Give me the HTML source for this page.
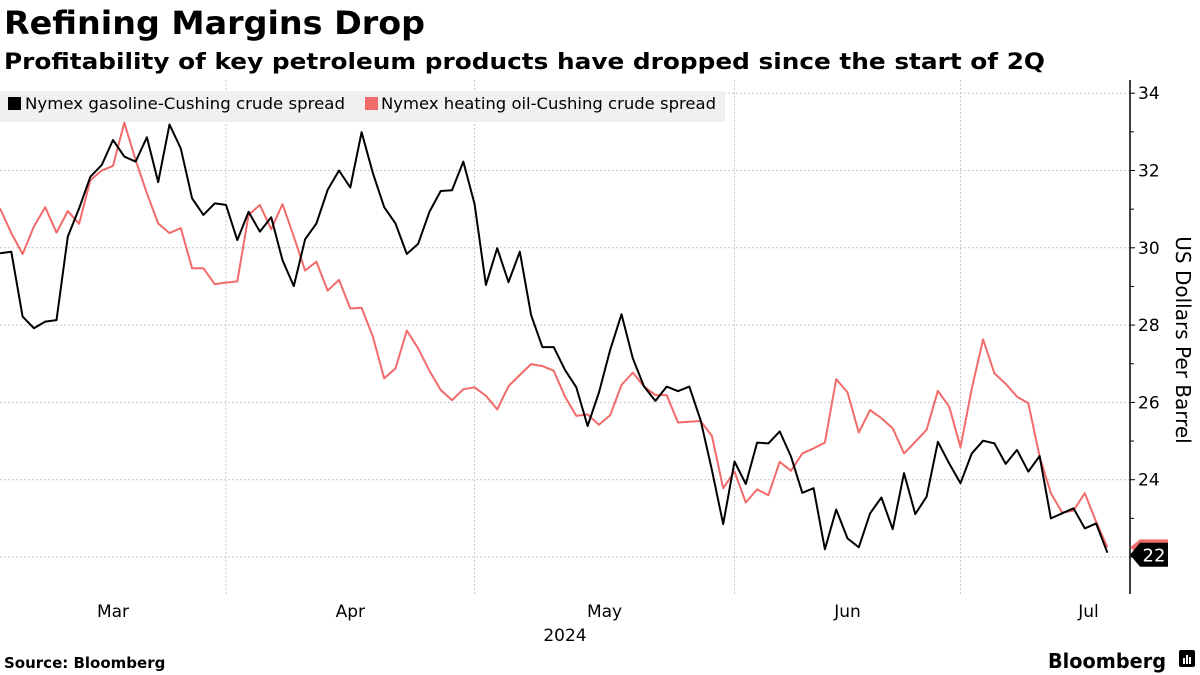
<!DOCTYPE html>
<html><head><meta charset="utf-8"><style>
html,body{margin:0;padding:0;background:#fff;width:1200px;height:675px;overflow:hidden;font-family:"Liberation Sans","DejaVu Sans",sans-serif}
svg text{font-family:"DejaVu Sans","Liberation Sans",sans-serif}
</style></head><body>
<svg id="chart" width="1200" height="675" viewBox="0 0 1200 675">
<text x="4" y="34" font-size="32" font-weight="bold" fill="#000" textLength="421" lengthAdjust="spacingAndGlyphs">Refining Margins Drop</text>
<text x="4" y="69" font-size="22" font-weight="bold" fill="#000" textLength="1041" lengthAdjust="spacingAndGlyphs">Profitability of key petroleum products have dropped since the start of 2Q</text>
<g id="grid"></g>
<rect x="0" y="91" width="725" height="31" fill="#f0f0f0"/>
<g>
<rect x="8" y="97" width="13" height="13" fill="#000"/>
<text x="25" y="109" font-size="16" fill="#000" textLength="320" lengthAdjust="spacingAndGlyphs">Nymex gasoline-Cushing crude spread</text></g>
<g>
<rect x="365" y="97" width="13" height="13" fill="#f26b6b"/>
<text x="381" y="109" font-size="16" fill="#000" textLength="335" lengthAdjust="spacingAndGlyphs">Nymex heating oil-Cushing crude spread</text></g>
<g id="series"></g>
<g id="axes"></g>
<text transform="translate(1176,340) rotate(90)" text-anchor="middle" font-size="20" fill="#000">US Dollars Per Barrel</text>
<text x="4" y="668" font-size="15" font-weight="bold" fill="#000">Source: Bloomberg</text>
<text x="1048" y="668" font-size="20" font-weight="bold" fill="#000" textLength="118" lengthAdjust="spacingAndGlyphs">Bloomberg</text>
<g><rect x="1179" y="650" width="16" height="17" rx="2" fill="#000"/><rect x="1183" y="658" width="2" height="6" fill="#fff"/><rect x="1186" y="655" width="2" height="9" fill="#fff"/><rect x="1189" y="657" width="2" height="7" fill="#fff"/></g>
</svg>
<script>
const gasoline=[29.86,29.90,28.22,27.92,28.09,28.13,30.29,31.02,31.84,32.14,32.79,32.36,32.23,32.86,31.70,33.19,32.57,31.28,30.85,31.15,31.11,30.20,30.93,30.42,30.79,29.68,29.01,30.22,30.63,31.50,32.00,31.56,32.99,31.93,31.05,30.63,29.84,30.10,30.93,31.47,31.49,32.23,31.13,29.04,29.99,29.11,29.90,28.26,27.43,27.43,26.84,26.39,25.39,26.25,27.36,28.28,27.14,26.41,26.04,26.41,26.29,26.41,25.54,24.25,22.85,24.47,23.89,24.96,24.94,25.25,24.60,23.66,23.78,22.20,23.23,22.48,22.25,23.13,23.54,22.72,24.17,23.11,23.56,24.98,24.42,23.91,24.68,25.01,24.94,24.41,24.77,24.21,24.61,23.00,23.13,23.26,22.74,22.87,22.11];
const heatingOil=[31.02,30.38,29.84,30.55,31.05,30.39,30.95,30.62,31.75,32.00,32.12,33.24,32.27,31.41,30.63,30.38,30.51,29.47,29.47,29.06,29.10,29.13,30.85,31.11,30.48,31.13,30.29,29.41,29.64,28.89,29.17,28.43,28.45,27.70,26.62,26.88,27.86,27.40,26.82,26.32,26.06,26.34,26.39,26.17,25.82,26.42,26.71,26.99,26.94,26.82,26.15,25.65,25.69,25.42,25.67,26.45,26.77,26.41,26.19,26.19,25.48,25.50,25.52,25.13,23.78,24.21,23.41,23.75,23.60,24.46,24.23,24.68,24.81,24.96,26.60,26.26,25.22,25.80,25.59,25.33,24.68,24.98,25.29,26.30,25.89,24.84,26.36,27.63,26.75,26.48,26.15,25.98,24.60,23.65,23.15,23.20,23.65,22.91,22.25];
const yTicks=[22,24,26,28,30,32,34];
const monthLabels=["Mar","Apr","May","Jun","Jul"];
const monthStartIdx=[0,20,42,65,85];
const lastValueLabel="22";

const NS="http://www.w3.org/2000/svg";
const X0=0,STEP=11.3,AXIS_X=1130,TOP=80,BOTTOM=594;
function xScale(i){return X0+i*STEP;}
function yScale(v){return 557-(v-22)*38.65;}
function mk(tag,attrs,parent){const e=document.createElementNS(NS,tag);for(const k in attrs)e.setAttribute(k,attrs[k]);parent.appendChild(e);return e;}
const grid=document.getElementById('grid'),axes=document.getElementById('axes'),series=document.getElementById('series');
const maxTick=Math.max(...yTicks);
yTicks.forEach(v=>{
  const y=yScale(v);
  const l=mk('line',{x1:0,x2:AXIS_X,y1:y,y2:y,stroke:'#c8c8c8','stroke-width':1,'stroke-dasharray':'2,2'},grid);
  
  
  const t=mk('line',{x1:AXIS_X,x2:AXIS_X+5,y1:y,y2:y,stroke:'#000','stroke-width':1},axes);
  
  
  if(v<maxTick){
    const m=mk('line',{x1:AXIS_X,x2:AXIS_X+4,y1:yScale(v+1),y2:yScale(v+1),stroke:'#000','stroke-width':1},axes);
    
    
  }
  if(v!==22){
    const tx=mk('text',{x:AXIS_X+8,y:y+6,'font-size':17,fill:'#000'},axes);
    tx.textContent=v;
    
    
  }
});
monthStartIdx.forEach((idx,k)=>{
  const x=xScale(idx);
  if(k>0){
    const g=mk('line',{x1:x,x2:x,y1:TOP,y2:BOTTOM,stroke:'#c8c8c8','stroke-width':1,'stroke-dasharray':'2,2'},grid);
    
    
  }
  const next=k+1<monthStartIdx.length?xScale(monthStartIdx[k+1]):xScale(monthStartIdx[k])+256;
  const t=mk('text',{x:(x+next)/2,y:617,'font-size':17,'text-anchor':'middle',fill:'#000'},axes);
  t.textContent=monthLabels[k];
  
  
});
const yr=mk('text',{x:565,y:641,'font-size':17,'text-anchor':'middle',fill:'#000'},axes);
yr.textContent='2024';


const ax=mk('line',{x1:AXIS_X,x2:AXIS_X,y1:TOP,y2:BOTTOM,stroke:'#000','stroke-width':1.5},axes);


function drawLine(data,color,name){
  const d=data.map((v,i)=>(i?'L':'M')+xScale(i).toFixed(1)+','+yScale(v).toFixed(1)).join('');
  const p=mk('path',{d:d,fill:'none',stroke:color,'stroke-width':2,'stroke-linejoin':'round'},series);
  
  
}
drawLine(heatingOil,'#f26b6b','heating-oil-line');
drawLine(gasoline,'#000','gasoline-line');
const yr2=yScale(heatingOil[heatingOil.length-1]);
const rt=mk('path',{d:`M${AXIS_X},${yr2} L${AXIS_X+10},${yr2-8} L${AXIS_X+38},${yr2-8} L${AXIS_X+38},${yr2+8} L${AXIS_X+10},${yr2+8} Z`,fill:'#f26b6b'},axes);


const yb=yScale(gasoline[gasoline.length-1])+2;
const bt=mk('path',{d:`M${AXIS_X},${yb} L${AXIS_X+10},${yb-12} L${AXIS_X+38},${yb-12} L${AXIS_X+38},${yb+12} L${AXIS_X+10},${yb+12} Z`,fill:'#000'},axes);


const lt=mk('text',{x:AXIS_X+24,y:yb+7,'font-size':18,'text-anchor':'middle',fill:'#fff'},axes);
lt.textContent=lastValueLabel;


</script>
</body></html>
